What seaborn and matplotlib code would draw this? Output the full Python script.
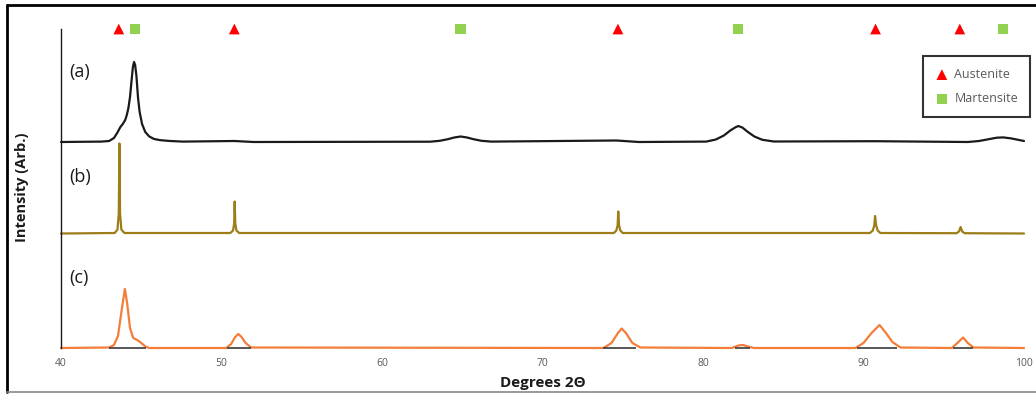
import matplotlib

matplotlib.use("Agg")
import matplotlib.pyplot as plt
import seaborn as sns
from matplotlib.lines import Line2D

# pattern (a): 2-theta and intensity above its own baseline
a_theta = [40, 42.5, 43.0, 43.3, 43.5, 43.7, 43.85, 44.0, 44.1, 44.2, 44.3, 44.4,
           44.48, 44.55, 44.62, 44.7, 44.8, 44.9, 45.05, 45.25, 45.5, 45.8, 46.2,
           46.8, 47.6, 50.8, 52.0, 63.0, 63.6, 64.1, 64.5, 64.9, 65.3, 65.7, 66.2,
           66.8, 74.6, 76.0, 80.2, 80.8, 81.3, 81.7, 82.0, 82.2, 82.45, 82.8, 83.2,
           83.7, 84.4, 90.7, 96.5, 97.2, 97.8, 98.3, 98.7, 99.2, 100]
a_int = [0, 0.4, 1, 4, 9, 15, 18, 22, 27, 34, 45, 62,
         75, 80, 77, 66, 44, 30, 18, 10, 5.5, 3, 1.8,
         1, 0.4, 1, 0, 0.3, 1.2, 2.8, 4.5, 5.5, 4.5, 2.8, 1.2,
         0.4, 1.5, 0, 0.4, 2.5, 6.5, 11.5, 14.5, 16, 14.5, 10, 5.5,
         2.2, 0.5, 0.8, 0, 1, 2.8, 4.3, 4.6, 3.6, 1]

# pattern (b)
b_theta = [40, 43.35, 43.52, 43.6, 43.64, 43.68, 43.76, 43.95, 50.55, 50.72, 50.79,
           50.82, 50.86, 50.93, 51.1, 74.45, 74.6, 74.68, 74.72, 74.77, 74.85, 75.0,
           90.4, 90.58, 90.67, 90.72, 90.79, 90.88, 91.05, 95.8, 95.95, 96.05, 96.15,
           96.3, 100]
b_int = [0, 0.5, 4, 20, 90, 20, 4, 0.5, 0.5, 3, 10,
         32, 10, 3, 0.5, 0.5, 3, 8, 22, 8, 3, 0.5,
         0.5, 3, 8, 17.5, 8, 3, 0.5, 0.3, 2, 6.5, 2,
         0.3, 0]

# pattern (c)
c_theta = [40, 43.0, 43.3, 43.55, 43.8, 43.98, 44.12, 44.3, 44.5, 44.75, 45.0, 45.3,
           45.5, 50.3, 50.6, 50.85, 51.05, 51.25, 51.5, 51.85, 73.8, 74.3, 74.7, 74.93,
           75.2, 75.6, 76.1, 81.8, 82.2, 82.5, 82.9, 83.2, 89.5, 90.0, 90.5, 91.0,
           91.4, 91.8, 92.3, 95.5, 95.85, 96.2, 96.5, 96.85, 100]
c_int = [0, 0.5, 3, 12, 40, 59, 45, 20, 10, 8, 5, 1,
         0, 0, 4, 11, 14, 11, 5, 0.5, 0, 5, 15, 19.5,
         15, 5, 0.5, 0, 2.5, 3, 1, 0, 0, 5, 15, 23,
         15, 6, 0.5, 0, 5, 10.5, 5, 0.5, 0]

# background segments under the (c) peaks
c_bg_start = [43.0, 50.35, 73.8, 82.0, 89.6, 95.6]
c_bg_end = [45.3, 51.85, 75.8, 82.9, 92.1, 96.8]

austenite_pos = [43.6, 50.8, 74.7, 90.75, 96.0]
martensite_pos = [44.6, 64.9, 82.2, 98.7]

labels = ["(a)", "(b)", "(c)"]
offsets = [206, 114.5, 0]
label_y = [276, 171, 70]
colors = ["#1a1a1a", "#9c7d18", "#f47d3a"]

sns.set_theme(style="white")
plt.rcParams["font.family"] = ["Open Sans", "DejaVu Sans"]

fig = plt.figure(figsize=(10.36, 3.94), dpi=100)
ax = fig.add_axes([61 / 1036, 46 / 394, 963 / 1036, 319 / 394])

series = [(a_theta, a_int), (b_theta, b_int), (c_theta, c_int)]
for (th, inten), off, col in zip(series, offsets, colors):
    sns.lineplot(x=th, y=[v + off for v in inten], ax=ax, color=col,
                 linewidth=1.6, sort=False)
for ln in ax.get_lines():
    ln.set_clip_on(False)

ax.hlines([0] * len(c_bg_start), c_bg_start, c_bg_end, color="#3a3a3a",
          linewidth=1.2, zorder=3, clip_on=False)

top = 319
sns.scatterplot(x=austenite_pos, y=[top] * len(austenite_pos), ax=ax, marker="^",
                color="#ff0000", s=60, edgecolor="none", label="Austenite",
                clip_on=False, zorder=5)
sns.scatterplot(x=martensite_pos, y=[top] * len(martensite_pos), ax=ax, marker="s",
                color="#92d050", s=55, edgecolor="none", label="Martensite",
                clip_on=False, zorder=5)

for lab, ly in zip(labels, label_y):
    ax.text(40.5, ly, lab, fontsize=13, color="#1a1a1a", ha="left", va="center")

ax.set_xlim(40, 100)
ax.set_ylim(0, top)
ax.set_xticks([40, 50, 60, 70, 80, 90, 100])
ax.set_yticks([])
ax.tick_params(axis="x", length=0, pad=7, labelsize=7.5, labelcolor="#595959")
for side in ["top", "right", "bottom"]:
    ax.spines[side].set_visible(False)
ax.spines["left"].set_color("#1a1a1a")
ax.spines["left"].set_linewidth(1.0)
ax.set_xlabel("")
ax.set_ylabel("")

leg = ax.legend(loc="upper right", bbox_to_anchor=(1030 / 1036, 1 - 56 / 394),
                bbox_transform=fig.transFigure, frameon=True, fancybox=False,
                fontsize=9, borderpad=0.95, handletextpad=0.4, labelspacing=0.9,
                handlelength=1.2, borderaxespad=0)
leg.get_frame().set_edgecolor("black")
leg.get_frame().set_linewidth(1.5)
for t in leg.get_texts():
    t.set_color("#595959")

fig.text(543 / 1036, 1 - 383 / 394, "Degrees 2Θ", fontsize=11, fontweight="bold",
         ha="center", va="center", color="#1a1a1a")
fig.text(22 / 1036, 1 - 187 / 394, "Intensity (Arb.)", fontsize=10.5,
         fontweight="bold", rotation=90, ha="center", va="center", color="#1a1a1a")

# screenshot frame
fig.add_artist(Line2D([7 / 1036, 1], [1 - 5 / 394, 1 - 5 / 394], color="black",
                      linewidth=2, transform=fig.transFigure))
fig.add_artist(Line2D([7 / 1036, 7 / 1036], [1 - 5 / 394, 1 - 392 / 394],
                      color="black", linewidth=2, transform=fig.transFigure))
fig.add_artist(Line2D([7 / 1036, 1], [1 - 392 / 394, 1 - 392 / 394], color="#888888",
                      linewidth=1.2, transform=fig.transFigure))

fig.savefig("out.png", dpi=100)
